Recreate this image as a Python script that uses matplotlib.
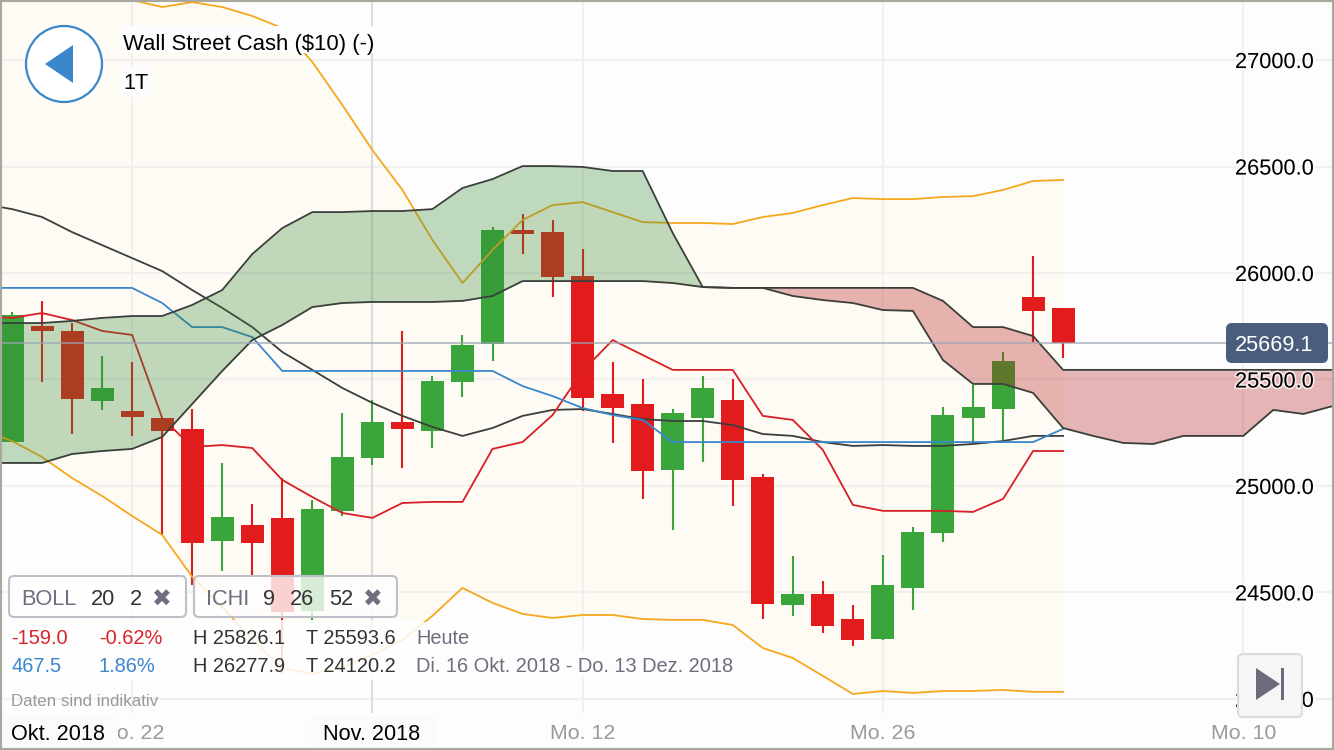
#!/usr/bin/env python3
# candlestick chart with bollinger bands and ichimoku cloud, app screenshot style
import numpy as np
from matplotlib import pyplot as plt
from matplotlib.colors import to_rgb
from matplotlib.patches import Circle, FancyBboxPatch, Polygon, Rectangle
from matplotlib import patheffects as pe

plt.rcParams['font.family'] = ['Liberation Sans', 'DejaVu Sans']

opens = [25206, 25751, 25728, 25399, 25352, 25319, 25268, 24742, 24817, 24850,
         24413, 24883, 25131, 25300, 25258, 25488, 25667, 26202, 26192, 25986,
         25432, 25385, 25075, 25319, 25404, 25042, 24441, 24493, 24375, 24282,
         24521, 24779, 25319, 25361, 25887, 25836]
highs = [25817, 25869, 25765, 25610, 25582, 25319, 25361, 25108, 24915, 25037,
         24934, 25343, 25404, 25728, 25516, 25709, 26216, 26278, 26249, 26113,
         25582, 25502, 25361, 25516, 25502, 25056, 24671, 24554, 24441, 24676,
         24807, 25371, 25474, 25629, 26080, 25836]
lows = [25206, 25488, 25244, 25357, 25235, 24770, 24535, 24601, 24582, 24122,
        24371, 24859, 25099, 25084, 25178, 25418, 25587, 26089, 25887, 25352,
        25202, 24939, 24793, 25113, 24906, 24375, 24390, 24310, 24249, 24277,
        24418, 24737, 25206, 25216, 25676, 25601]
closes = [25803, 25728, 25408, 25460, 25324, 25258, 24732, 24854, 24732, 24408,
          24892, 25136, 25300, 25268, 25493, 25662, 26202, 26183, 25981, 25413,
          25366, 25070, 25343, 25460, 25028, 24446, 24493, 24343, 24277, 24535,
          24784, 25333, 25371, 25587, 25822, 25669]

# the line series start one day before the first candle, left of the picture
boll_upper = [27420, 27400, 27380, 27350, 27305, 27282, 27249, 27272, 27249, 27207, 27150,
              26991, 26789, 26577, 26390, 26155, 25953, 26108, 26249, 26319, 26333,
              26286, 26239, 26235, 26235, 26230, 26263, 26282, 26319, 26352, 26347,
              26347, 26357, 26361, 26390, 26432, 26437]
boll_middle = [26325, 26300, 26263, 26192, 26131, 26070, 26009, 25920, 25836, 25746, 25629,
               25545, 25460, 25390, 25329, 25277, 25235, 25272, 25329, 25357, 25361,
               25338, 25314, 25305, 25305, 25286, 25244, 25235, 25206, 25188, 25192,
               25188, 25188, 25197, 25211, 25235, 25235]
boll_lower = [25263, 25211, 25136, 25037, 24953, 24859, 24770, 24573, 24432, 24277, 24145,
              24117, 24150, 24206, 24277, 24390, 24521, 24451, 24399, 24380, 24394,
              24394, 24375, 24371, 24371, 24347, 24239, 24192, 24108, 24023, 24037,
              24028, 24037, 24037, 24042, 24033, 24033]

tenkan = [25798, 25789, 25812, 25779, 25728, 25709, 25319, 25183, 25192, 25178, 25028,
          24948, 24873, 24850, 24920, 24925, 24925, 25174, 25206, 25333, 25540,
          25685, 25615, 25545, 25545, 25545, 25329, 25310, 25169, 24911, 24883,
          24883, 24883, 24878, 24939, 25164, 25164]
kijun = [25930, 25930, 25930, 25930, 25930, 25930, 25859, 25746, 25746, 25699, 25540,
         25540, 25540, 25540, 25540, 25540, 25540, 25540, 25469, 25422, 25366,
         25333, 25310, 25206, 25206, 25206, 25206, 25206, 25206, 25206, 25206,
         25206, 25206, 25206, 25206, 25206, 25268]

span_a = [25765, 25765, 25765, 25775, 25789, 25798, 25798, 25850, 25920, 26089, 26211,
          26286, 26286, 26291, 26291, 26300, 26399, 26441, 26502, 26502, 26498,
          26479, 26479, 26188, 25934, 25930, 25930, 25892, 25873, 25859, 25826,
          25822, 25591, 25479, 25479, 25437, 25272, 25235, 25202, 25197, 25235,
          25235, 25235, 25357, 25338, 25376]
span_b = [25108, 25108, 25108, 25150, 25164, 25174, 25230, 25385, 25540, 25685, 25756,
          25840, 25859, 25864, 25864, 25864, 25869, 25892, 25962, 25962, 25962,
          25962, 25962, 25953, 25934, 25930, 25930, 25930, 25930, 25930, 25930,
          25930, 25869, 25746, 25746, 25704, 25545, 25545, 25545, 25545, 25545,
          25545, 25545, 25545, 25545, 25545]

last_price = 25669.1
y_ticks = [24000, 24500, 25000, 25500, 26000, 26500, 27000]
x_ticks = [4, 19, 29, 41]
x_labels = ['Mo. 22', 'Mo. 12', 'Mo. 26', 'Mo. 10']
month_tick = 12

RED = '#e21c1c'
GREEN = '#3aa53a'
ORANGE = '#f5a81e'
BLUE = '#3a86cc'
DARK = '#3b3f3c'
GRAY = '#6e6e80'

fig = plt.figure(figsize=(13.34, 7.5), dpi=100, facecolor='#fdfdfd')
ax = fig.add_axes([0, 0, 1, 1], facecolor='#fdfdfd')

days = np.arange(len(opens))
line_days = np.arange(-1, len(opens))
cloud_days = np.arange(-1, len(span_a) - 1)
o, h, l, c = map(np.array, (opens, highs, lows, closes))
colors = [GREEN if cl > op else RED for op, cl in zip(opens, closes)]

# band background first, it decides where the beige area is
ax.fill_between(line_days, boll_lower, boll_upper, color='#fefaf4', lw=0, zorder=0.3)

# grid by hand, the tick labels have to stay above the cloud
ax.hlines(y_ticks, -1, 45, color='#f0f0ee', lw=1.5, zorder=0.5)
ax.vlines(x_ticks, 23934, 27300, color='#f0f0ee', lw=1.5, zorder=0.5)
ax.vlines(month_tick, 23934, 27300, color='#dcdcdc', lw=1.5, zorder=0.5)

# candles
ax.vlines(days, lows, highs, colors=colors, lw=1.5, zorder=2)
ax.bar(days, np.abs(c - o), bottom=np.minimum(o, c), width=0.766, color=colors,
       lw=0, zorder=2.1)

# bands and ichimoku lines
ax.plot(line_days, boll_upper, color=ORANGE, lw=1.3, zorder=3)
ax.plot(line_days, boll_lower, color=ORANGE, lw=1.3, zorder=3)
ax.plot(line_days, boll_middle, color=DARK, lw=1.3, zorder=3)
ax.plot(line_days, tenkan, color='#d81e26', lw=1.3, zorder=3)
ax.plot(line_days, kijun, color=BLUE, lw=1.3, zorder=3)

# cloud on top, everything shows through it
sa, sb = np.array(span_a), np.array(span_b)
ax.fill_between(cloud_days, sa, sb, where=sa >= sb, interpolate=True,
                color=(50 / 255, 135 / 255, 50 / 255), alpha=0.3, lw=0, zorder=4)
ax.fill_between(cloud_days, sa, sb, where=sa <= sb, interpolate=True,
                color=(178 / 255, 20 / 255, 20 / 255), alpha=0.31, lw=0, zorder=4)
ax.plot(cloud_days, span_a, color=DARK, lw=1.3, zorder=4.1)
ax.plot(cloud_days, span_b, color=DARK, lw=1.3, zorder=4.1)

ax.axhline(last_price, color='#9aa5b5', lw=1.1, alpha=0.85, zorder=4.2)

ax.set_xlim(-0.4, 44.02)
ax.set_ylim(23760, 27282)
for side in ax.spines.values():
    side.set_visible(False)
ax.set_xticks(x_ticks, x_labels)
ax.set_yticks(y_ticks, [f'{v:.1f}' for v in y_ticks])
ax.yaxis.tick_right()
ax.tick_params(axis='y', length=0, pad=-71.3, labelsize=15.7, labelcolor='black')
ax.tick_params(axis='x', length=0, pad=-19, labelsize=15.4, labelcolor='#9a9a96')
for tick_label in ax.get_yticklabels():
    tick_label.set_path_effects([pe.withStroke(linewidth=2.5, foreground='white', alpha=0.7)])
ax.yaxis.set_zorder(20)
ax.xaxis.set_zorder(20)

# app controls on top, in pixel coordinates
ui = fig.add_axes([0, 0, 1, 1], zorder=10)
ui.set_xlim(0, 1334)
ui.set_ylim(750, 0)
ui.axis('off')


def label(x, y, s, color='black', size=14.45, **kw):
    return ui.text(x, y, s, color=color, fontsize=size, va='center_baseline', **kw)


def panel(x, y, w, h, face, edge, alpha=1.0, lw=1.5, r=5):
    box = FancyBboxPatch((x, y), w, h, boxstyle=f'round,pad=0,rounding_size={r}',
                         facecolor=(*to_rgb(face), alpha), edgecolor=edge, lw=lw)
    ui.add_patch(box)
    return box


# back button
ui.add_patch(Circle((64, 64), 38, facecolor='white', edgecolor=BLUE, lw=1.6))
ui.add_patch(Polygon([(45, 64), (73, 45), (73, 83)], color=BLUE, lw=0))

ui.add_patch(Rectangle((120, 26), 253, 27, facecolor='#fdfdfd', lw=0))
ui.add_patch(Rectangle((120, 66), 32, 31, facecolor='#fdfdfd', alpha=0.9, lw=0))
label(123, 42, 'Wall Street Cash ($10) (-)', size=15.9)
label(123, 81, '1T', size=15.7)

# last price
panel(1226, 323, 102, 40, '#4a5d7c', '#4a5d7c', r=6, lw=0)
label(1235, 343, '25669.1', color='white', size=15.7)

# indicator boxes
panel(9, 576, 177, 41, '#ffffff', '#bfbfc7', alpha=0.8)
panel(194, 576, 203, 41, '#ffffff', '#bfbfc7', alpha=0.8)
label(21, 597, 'BOLL', color=GRAY, size=15.7)
label(91, 597, '20', color='#333333', size=15.7)
label(130, 597, '2', color='#333333', size=15.7)
label(152, 597, '\u2716', color=GRAY, size=17, family='DejaVu Sans')
label(206, 597, 'ICHI', color=GRAY, size=15.7)
label(263, 597, '9', color='#333333', size=15.7)
label(290, 597, '26', color='#333333', size=15.7)
label(329, 597, '52', color='#333333', size=15.7)
label(363, 597, '\u2716', color=GRAY, size=17, family='DejaVu Sans')

# info rows, nearly opaque behind the text
ui.add_patch(Rectangle((0, 620), 414, 60, facecolor='white', alpha=0.85, lw=0))
ui.add_patch(Rectangle((414, 622), 56, 26, facecolor='white', alpha=0.85, lw=0))
ui.add_patch(Rectangle((414, 650), 322, 28, facecolor='#fdfdfd', alpha=0.95, lw=0))
label(11, 637, '-159.0', color='#d9232b')
label(99, 637, '-0.62%', color='#d9232b')
label(193, 637, 'H 25826.1', color='#333333')
label(306, 637, 'T 25593.6', color='#333333')
label(416, 637, 'Heute', color=GRAY)
label(11, 665, '467.5', color=BLUE)
label(99, 665, '1.86%', color=BLUE)
label(193, 665, 'H 26277.9', color='#333333')
label(306, 665, 'T 24120.2', color='#333333')
label(416, 665, 'Di. 16 Okt. 2018 - Do. 13 Dez. 2018', color=GRAY)
label(11, 700, 'Daten sind indikativ', color='#9a9a9a', size=12.2)

# month labels
ui.add_patch(Rectangle((3, 716), 115, 31, facecolor='#fbfbfb', lw=0))
ui.add_patch(Rectangle((310, 716), 125, 31, facecolor='#fbfbfb', lw=0))
label(11, 732, 'Okt. 2018', size=15.6)
label(323, 732, 'Nov. 2018', size=15.6)

# skip to end button
panel(1238, 654, 64, 63, '#f6f6f6', '#dcdce0', r=5)
ui.add_patch(Polygon([(1256, 668), (1256, 700), (1280, 684)], color='#6b6b7b', lw=0))
ui.add_patch(Rectangle((1281, 668), 2.5, 32, color='#6b6b7b', lw=0))

# frame
ui.add_patch(Rectangle((0, 0), 1334, 750, fill=False, edgecolor='#a8a89e', lw=3))

fig.savefig('out.png', dpi=100, facecolor=fig.get_facecolor())
